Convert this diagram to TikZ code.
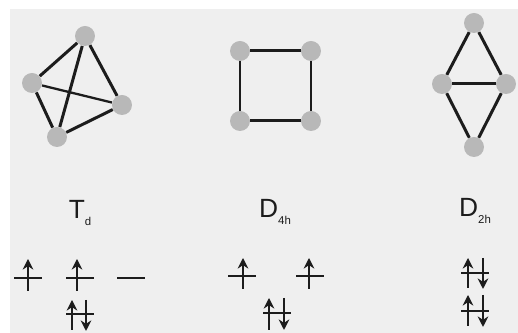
\documentclass[tikz,border=0pt]{standalone}
\usepackage{fontspec}
\setmainfont{Liberation Sans}
\usepackage{tikz}
\usetikzlibrary{arrows.meta,calc}
\definecolor{paper}{HTML}{EFEFEF}
\definecolor{atomgray}{HTML}{B8B8B8}
\definecolor{inkgray}{HTML}{1C1C1C}
\newcommand{\symlabel}[2]{#1\raisebox{-3.5pt}{\fontsize{6.5}{7}\selectfont #2}}

\begin{document}
\begin{tikzpicture}[
    x=0.02cm, y=-0.02cm,
    atom/.style={circle, fill=atomgray, minimum size=0.4cm, inner sep=0pt},
    bond/.style={line width=1.7pt, inkgray},
    group/.style={font=\fontsize{15}{16}\selectfont, text=inkgray, inner sep=0pt},
    level/.style={rectangle, fill=inkgray, minimum width=0.58cm, minimum height=1.1pt, inner sep=0pt},
    spin/.style={-{Stealth[length=6pt,width=6pt]}, line width=1pt, inkgray}
]
\useasboundingbox (0,0) rectangle (518,333);
\fill[white] (0,0) rectangle (518,333);
\fill[paper] (10,9) rectangle (518,333);

% Td atoms
\node[atom] (ta) at (85,36) {};
\node[atom] (tb) at (32,83) {};
\node[atom] (tc) at (122,105) {};
\node[atom] (td) at (57,137) {};

% Td bonds
\draw[bond] (ta) -- (tb);
\draw[bond] (ta) -- (tc);
\draw[bond] (ta) -- (td);
\draw[bond, line width=1.3pt] (tb) -- (tc);
\draw[bond] (tb) -- (td);
\draw[bond] (tc) -- (td);

% D4h atoms
\node[atom] (sa) at (240,51) {};
\node[atom] (sb) at (311,51) {};
\node[atom] (sc) at (240,121) {};
\node[atom] (sd) at (311,121) {};

% D4h bonds
\draw[bond] (sa) -- (sb);
\draw[bond] (sb) -- (sd);
\draw[bond] (sd) -- (sc);
\draw[bond] (sc) -- (sa);

% D2h atoms
\node[atom] (ra) at (474,23) {};
\node[atom] (rb) at (442,84) {};
\node[atom] (rc) at (506,84) {};
\node[atom] (rd) at (474,147) {};

% D2h bonds
\draw[bond] (ra) -- (rb);
\draw[bond] (ra) -- (rc);
\draw[bond] (rb) -- (rc);
\draw[bond] (rb) -- (rd);
\draw[bond] (rc) -- (rd);

% Group labels
\node[group] (tlabel) at (80,213) {\symlabel{T}{d}};
\node[group] (slabel) at (275,212) {\symlabel{D}{4h}};
\node[group] (rlabel) at (475,211) {\symlabel{D}{2h}};

% Td levels
\node[level] (tl1) at (28,278) {};
\node[level] (tl2) at (80,278) {};
\node[level] (tl3) at (131,278) {};
\node[level] (tl4) at (80,314) {};
\draw[spin] ($(tl1)+(0,13)$) -- ($(tl1)+(0,-19)$);
\draw[spin] ($(tl2)+(-3,13)$) -- ($(tl2)+(-3,-19)$);
\draw[spin] ($(tl4)+(-8,16)$) -- ($(tl4)+(-8,-14)$);
\draw[spin] ($(tl4)+(6,-14)$) -- ($(tl4)+(6,17)$);

% D4h levels
\node[level] (sl1) at (242,276) {};
\node[level] (sl2) at (310,276) {};
\node[level] (sl3) at (277,313) {};
\draw[spin] ($(sl1)+(1,13)$) -- ($(sl1)+(1,-18)$);
\draw[spin] ($(sl2)+(-1,13)$) -- ($(sl2)+(-1,-18)$);
\draw[spin] ($(sl3)+(-8,17)$) -- ($(sl3)+(-8,-15)$);
\draw[spin] ($(sl3)+(7,-15)$) -- ($(sl3)+(7,17)$);

% D2h levels
\node[level] (rl1) at (475,273) {};
\node[level] (rl2) at (475,311) {};
\draw[spin] ($(rl1)+(-7,15)$) -- ($(rl1)+(-7,-15)$);
\draw[spin] ($(rl1)+(8,-15)$) -- ($(rl1)+(8,16)$);
\draw[spin] ($(rl2)+(-7,15)$) -- ($(rl2)+(-7,-16)$);
\draw[spin] ($(rl2)+(8,-16)$) -- ($(rl2)+(8,16)$);

\end{tikzpicture}
\end{document}
